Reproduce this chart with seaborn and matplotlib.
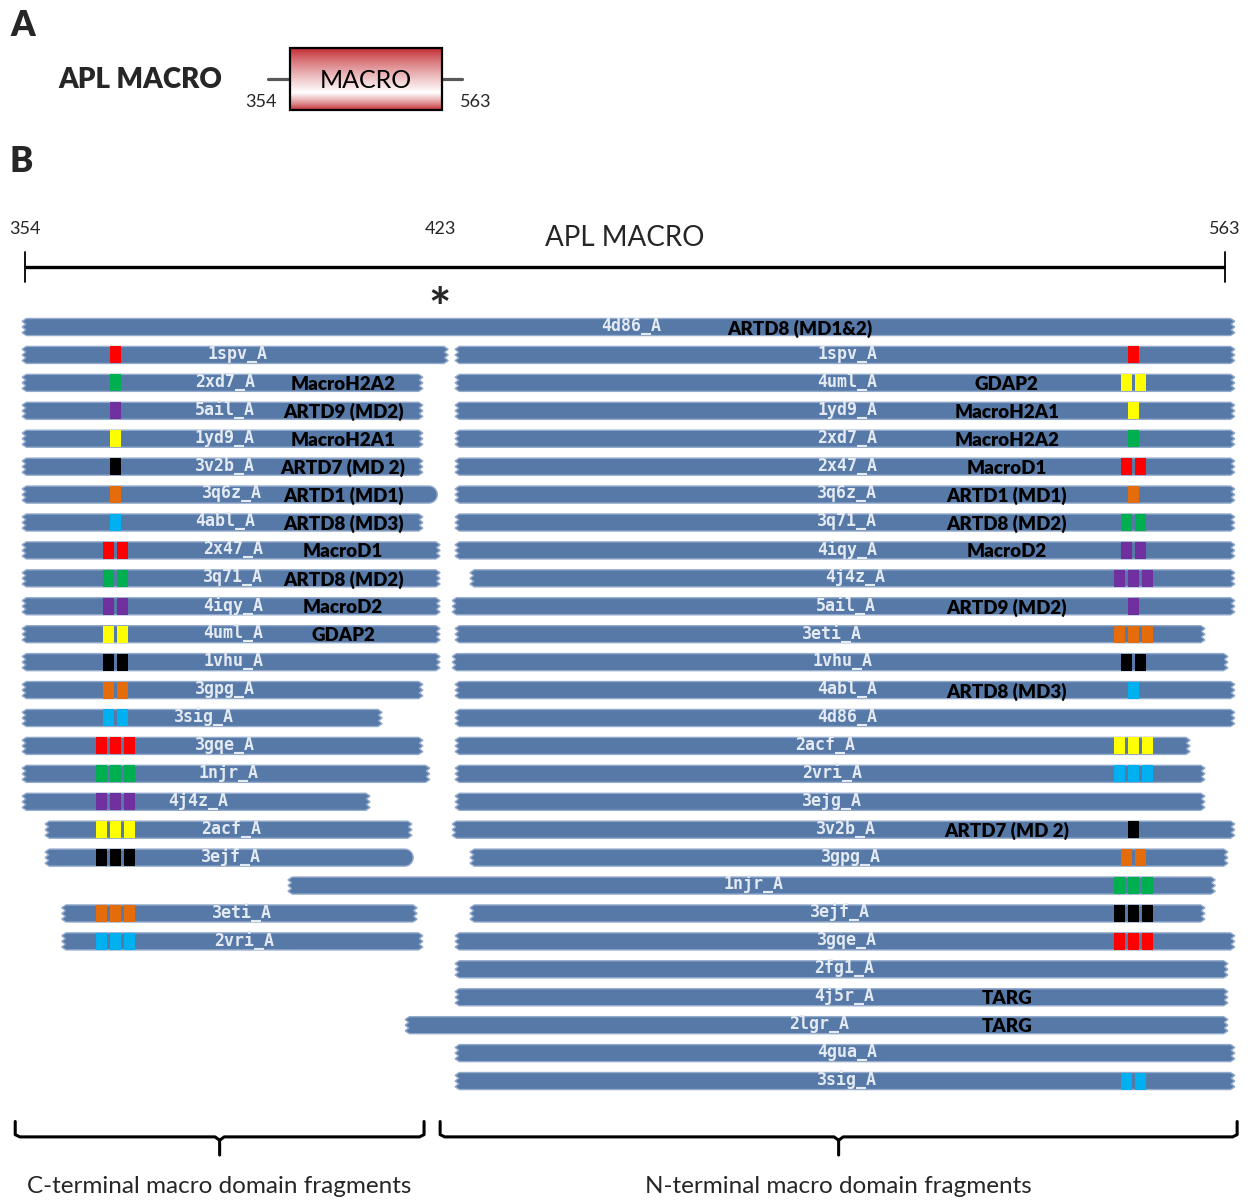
import numpy as np
import pandas as pd
import matplotlib
matplotlib.use("Agg")
import matplotlib.pyplot as plt
from matplotlib.patches import Polygon, Rectangle
import seaborn as sns

# ---------------- data ----------------
domain_start = 354
domain_end = 563
domain_mid_label = 423

bar_row = [0, 1, 1, 2, 2, 3, 3, 4, 4, 5, 5, 6, 6, 7, 7, 8, 8, 9, 9, 10, 10,
           11, 11, 12, 12, 13, 13, 14, 14, 15, 15, 16, 16, 17, 17, 18, 18,
           19, 19, 20, 21, 21, 22, 22, 23, 24, 25, 26, 27]
bar_group = ["F", "C", "N", "C", "N", "C", "N", "C", "N", "C", "N", "C", "N",
             "C", "N", "C", "N", "C", "N", "C", "N", "C", "N", "C", "N", "C",
             "N", "C", "N", "C", "N", "C", "N", "C", "N", "C", "N", "C", "N",
             "N", "C", "N", "C", "N", "N", "N", "N", "N", "N"]
bar_start = [353.5, 353.5, 428.9, 353.5, 428.9, 353.5, 428.9, 353.5, 428.9,
             353.5, 428.9, 353.5, 428.9, 353.5, 428.9, 353.5, 428.9, 353.5,
             431.5, 353.5, 428.4, 353.5, 428.9, 353.5, 428.4, 353.5, 428.9,
             353.5, 428.9, 353.5, 428.9, 353.5, 428.9, 353.5, 428.9, 357.5,
             428.4, 357.5, 431.5, 399.8, 360.4, 431.5, 360.4, 428.9, 428.9,
             428.9, 420.2, 428.9, 428.9]
bar_end = [564.7, 427.7, 564.7, 423.3, 564.7, 423.3, 564.7, 423.3, 564.7,
           423.3, 564.7, 425.8, 564.7, 423.3, 564.7, 426.3, 564.7, 426.3,
           564.7, 426.3, 564.7, 426.3, 559.5, 426.3, 563.5, 423.3, 564.7,
           416.2, 564.7, 423.3, 556.9, 424.5, 559.5, 414.1, 559.5, 421.4,
           564.7, 421.6, 563.5, 561.3, 422.3, 559.5, 423.3, 564.7, 563.5,
           563.5, 563.5, 564.7, 564.7]
bar_pdb = ["4d86_A", "1spv_A", "1spv_A", "2xd7_A", "4uml_A", "5ail_A", "1yd9_A",
           "1yd9_A", "2xd7_A", "3v2b_A", "2x47_A", "3q6z_A", "3q6z_A", "4abl_A",
           "3q71_A", "2x47_A", "4iqy_A", "3q71_A", "4j4z_A", "4iqy_A", "5ail_A",
           "4uml_A", "3eti_A", "1vhu_A", "1vhu_A", "3gpg_A", "4abl_A", "3sig_A",
           "4d86_A", "3gqe_A", "2acf_A", "1njr_A", "2vri_A", "4j4z_A", "3ejg_A",
           "2acf_A", "3v2b_A", "3ejf_A", "3gpg_A", "1njr_A", "3eti_A", "3ejf_A",
           "2vri_A", "3gqe_A", "2fg1_A", "4j5r_A", "2lgr_A", "4gua_A", "3sig_A"]
bar_name = ["ARTD8 (MD1&2)", "", "", "MacroH2A2", "GDAP2", "ARTD9 (MD2)",
            "MacroH2A1", "MacroH2A1", "MacroH2A2", "ARTD7 (MD 2)", "MacroD1",
            "ARTD1 (MD1)", "ARTD1 (MD1)", "ARTD8 (MD3)", "ARTD8 (MD2)",
            "MacroD1", "MacroD2", "ARTD8 (MD2)", "", "MacroD2", "ARTD9 (MD2)",
            "GDAP2", "", "", "", "", "ARTD8 (MD3)", "", "", "", "", "", "", "",
            "", "", "ARTD7 (MD 2)", "", "", "", "", "", "", "", "", "TARG",
            "TARG", "", ""]
bar_marks = [0, 1, 1, 1, 2, 1, 1, 1, 1, 1, 2, 1, 1, 1, 2, 2, 2, 2, 3, 2, 1,
             2, 3, 2, 2, 2, 1, 2, 0, 3, 3, 3, 3, 3, 0, 3, 1, 3, 2, 3, 3, 3,
             3, 3, 0, 0, 0, 0, 2]
bar_mark_color = ["", "red", "red", "green", "yellow", "purple", "yellow",
                  "yellow", "green", "black", "red", "orange", "orange", "cyan",
                  "green", "red", "purple", "green", "purple", "purple",
                  "purple", "yellow", "orange", "black", "black", "orange",
                  "cyan", "cyan", "", "red", "yellow", "green", "cyan",
                  "purple", "", "yellow", "black", "black", "orange", "green",
                  "orange", "black", "cyan", "red", "", "", "", "", "cyan"]
bar_right_end = ["j"] * 49
bar_right_end[11] = "r"
bar_right_end[37] = "r"

mark_palette = {"red": "#FF0000", "green": "#00B050", "purple": "#7030A0",
                "yellow": "#FFFF00", "black": "#000000", "orange": "#E46C0A",
                "cyan": "#00B0F0"}

bracket_from = [352.3, 426.3]
bracket_to = [423.5, 565.1]
bracket_text = ["C-terminal macro domain fragments",
                "N-terminal macro domain fragments"]

# ---------------- layout constants ----------------
W, H = 1257, 1200
NAME_X = {"C": 409.4, "N": 525.0, "F": 489.0}
SITE_X = {"C": 369.7, "N": 547.1, "F": 547.1}
SITE_STEP = 2.44
HH = 0.305          # half bar height (rows)
TOOTH = 0.75        # jagged tooth depth (residues)
RX = HH * 27.93 / 5.7416
BAR_FILL = "#5679a8"
BAR_EDGE = "#93aacb"

sns.set_theme(style="white")
plt.rcParams["font.family"] = ["Lato", "DejaVu Sans"]

fig = plt.figure(figsize=(W / 100, H / 100), dpi=100)
ax = fig.add_axes([0, 0, 1, 1])
ax.set_xlim(349.65, 568.56)
ax.set_ylim(31.26, -11.71)
ax.axis("off")


def bar_polygon(x0, x1, yc, right):
    fr = [0, 1 / 6, 2 / 6, 3 / 6, 4 / 6, 5 / 6, 1]
    offs = [0.0, 1.0, 0.15, 1.0, 0.15, 1.0, 0.0]
    pts = []
    if right == "j":
        for f, o in zip(fr, offs):
            pts.append((x1 - TOOTH + o * TOOTH, yc - HH + 2 * HH * f))
    else:
        for a in np.linspace(-np.pi / 2, np.pi / 2, 25):
            pts.append((x1 - RX + RX * np.cos(a), yc + HH * np.sin(a)))
    for f, o in zip(fr[::-1], offs[::-1]):
        pts.append((x0 + TOOTH - o * TOOTH, yc - HH + 2 * HH * f))
    return pts


mark_x, mark_y, mark_c = [], [], []
for i in range(len(bar_row)):
    r = bar_row[i]
    g = bar_group[i]
    poly = Polygon(bar_polygon(bar_start[i], bar_end[i], r, bar_right_end[i]),
                   closed=True, facecolor=BAR_FILL, edgecolor=BAR_EDGE,
                   linewidth=1.0, zorder=2)
    ax.add_patch(poly)
    cx = (bar_start[i] + bar_end[i]) / 2 + 0.4
    ax.text(cx, r - 0.04, bar_pdb[i], ha="center", va="center",
            family="DejaVu Sans Mono", weight="bold", fontsize=12,
            color="#e4eaf2", zorder=4)
    if bar_name[i]:
        ax.text(NAME_X[g], r + 0.05, bar_name[i], ha="center", va="center",
                weight="heavy", fontsize=13.5, color="black", zorder=4)
    n = bar_marks[i]
    for k in range(n):
        mark_x.append(SITE_X[g] + (k - (n - 1) / 2) * SITE_STEP)
        mark_y.append(r)
        mark_c.append(bar_mark_color[i])

marks = pd.DataFrame({"x": mark_x, "y": mark_y, "c": mark_c})
rect_marker = [(-0.32, -0.5), (0.32, -0.5), (0.32, 0.5), (-0.32, 0.5), (-0.32, -0.5)]
sns.scatterplot(data=marks, x="x", y="y", hue="c", palette=mark_palette,
                marker=rect_marker, s=150, linewidth=0, legend=False,
                zorder=5, ax=ax)
ax.set_xlim(349.65, 568.56)
ax.set_ylim(31.26, -11.71)
ax.axis("off")

# scale bar
ybar = -2.148
ax.plot([domain_start, domain_end], [ybar, ybar], color="black", lw=2.4,
        solid_capstyle="butt", zorder=3)
for xe in (domain_start, domain_end):
    ax.plot([xe, xe], [-2.685, -1.611], color="black", lw=1.3, zorder=3)
ax.text(domain_start, -3.51, str(domain_start), ha="center", va="center",
        fontsize=13)
ax.text(domain_end, -3.51, str(domain_end), ha="center", va="center",
        fontsize=13)
ax.annotate(str(domain_mid_label), xy=(domain_mid_label, -3.51),
            xytext=(14, 0), textcoords="offset points", ha="center",
            va="center", fontsize=13)
ax.annotate("*", xy=(domain_mid_label, 0.0), xytext=(13, 0),
            textcoords="offset points", ha="center", va="baseline",
            fontsize=38, weight="bold")
ax.text(458.5, -3.19, "APL MACRO", ha="center", va="center", fontsize=20)

# brackets
for a, b, t in zip(bracket_from, bracket_to, bracket_text):
    m = (a + b) / 2
    top, line, tip = 28.45, 29.0, 29.65
    ax.plot([a, a, a + 0.8, m - 0.8, m, m], [top, line - 0.08, line, line,
            line + 0.12, tip], color="black", lw=2.2, solid_joinstyle="round")
    ax.plot([m, m + 0.8, b - 0.8, b, b], [line + 0.12, line, line, line - 0.08,
            top], color="black", lw=2.2, solid_joinstyle="round")
    ax.text(m, 30.79, t, ha="center", va="center", fontsize=17.5)

# ---------------- panel A ----------------
axa = fig.add_axes([0, 1 - 130 / H, 1, 130 / H])
axa.set_xlim(0, W)
axa.set_ylim(130, 0)
axa.axis("off")
axa.patch.set_alpha(0)

t = np.linspace(0, 1, 200)
w = np.where(t < 0.72, t / 0.72, 1 - (t - 0.72) / 0.28)
w = np.clip(w, 0, 1) ** 0.8
red = np.array([0.76, 0.15, 0.17])
grad = red[None, :] * (1 - w[:, None]) + np.ones(3)[None, :] * w[:, None]
axa.imshow(grad[:, None, :], extent=(290, 442, 110, 48), aspect="auto",
           zorder=2, interpolation="bilinear")
axa.add_patch(Rectangle((290, 48), 152, 62, fill=False, edgecolor="black",
                        lw=1.6, zorder=3))
axa.plot([268, 290], [79, 79], color="#595959", lw=2.3, zorder=1)
axa.plot([442, 462], [79, 79], color="#595959", lw=2.3, zorder=1)
axa.text(366, 80, "MACRO", ha="center", va="center", fontsize=18,
         color="black", zorder=4)
axa.text(58, 80, "APL MACRO", ha="left", va="center", fontsize=20,
         weight="heavy")
axa.text(261, 102, str(domain_start), ha="center", va="center", fontsize=13)
axa.text(476, 102, str(domain_end), ha="center", va="center", fontsize=13)
axa.set_xlim(0, W)
axa.set_ylim(130, 0)

fig.text(10 / W, 1 - 25 / H, "A", ha="left", va="center", fontsize=25,
         weight="heavy")
fig.text(10 / W, 1 - 162 / H, "B", ha="left", va="center", fontsize=25,
         weight="heavy")

fig.savefig("out.png", dpi=100, facecolor="white")
